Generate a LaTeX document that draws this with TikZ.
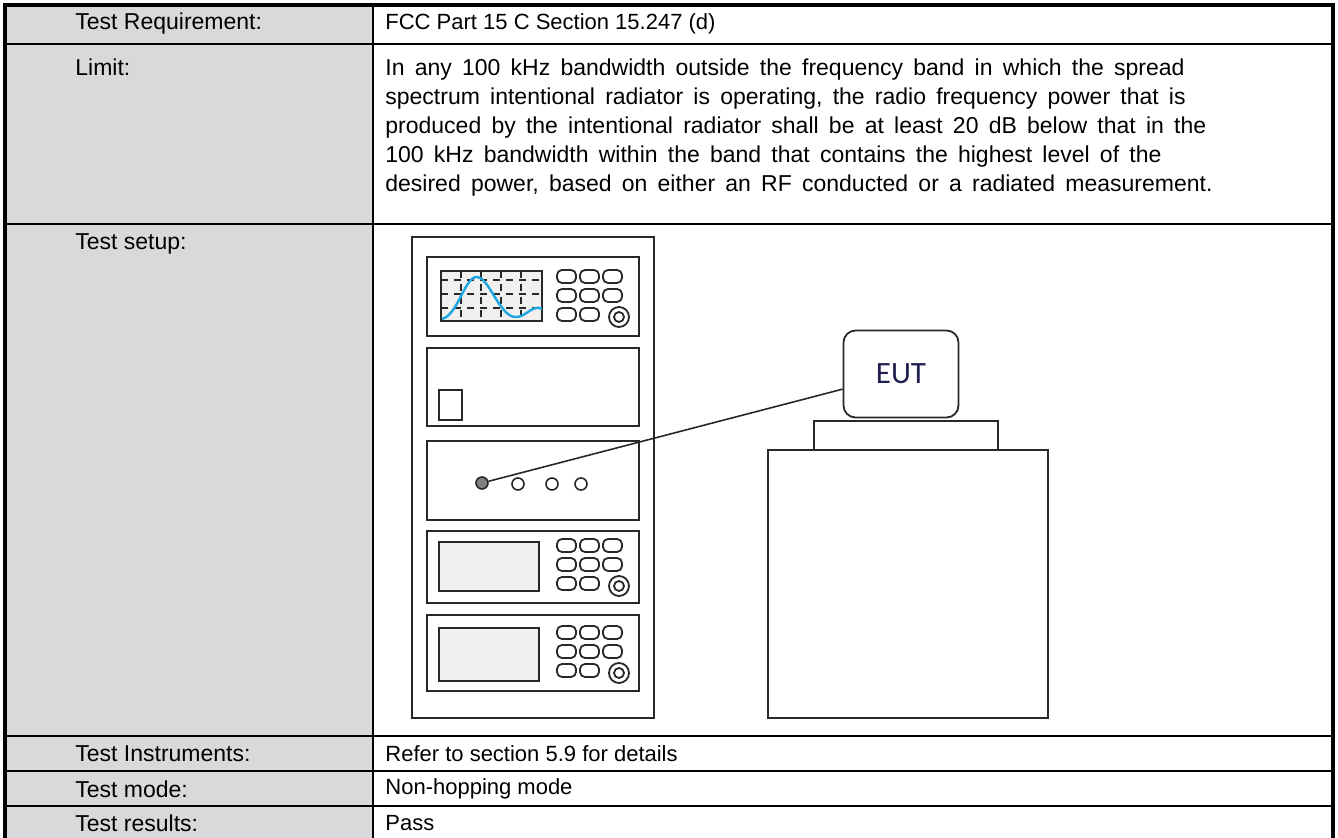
\documentclass[tikz,border=0pt]{standalone}
\usepackage{fontspec}
\setmainfont{Liberation Sans}
\newfontfamily\limfont[WordSpace=1.6]{Liberation Sans}
\newfontfamily\eutfont{Carlito}
\usetikzlibrary{positioning}

\definecolor{cellgrey}{RGB}{217,217,217}
\definecolor{screengrey}{RGB}{241,240,239}
\definecolor{tracecol}{RGB}{28,166,226}
\definecolor{eutblue}{RGB}{31,31,80}
\definecolor{gearcol}{RGB}{40,40,40}

\tikzset{
  lbl/.style={anchor=west, inner sep=0pt, font=\fontsize{11.5}{14}\selectfont},
  val/.style={anchor=west, inner sep=0pt, font=\fontsize{11}{14}\selectfont},
  para/.style={anchor=north west, inner sep=0pt, align=left, font=\limfont\fontsize{11.5}{14.5}\selectfont},
  rule/.style={line width=1pt},
  frame/.style={line width=2pt},
  unitbox/.style={draw=gearcol, line width=0.9pt},
  btn/.style={draw=gearcol, line width=0.9pt, rounded corners=2.5pt, fill=white},
  port/.style={circle, draw=gearcol, line width=0.8pt, minimum size=6pt, inner sep=0pt},
  eut/.style={draw=gearcol, line width=0.9pt, rounded corners=6pt, minimum width=57.5pt,
    minimum height=43.5pt, font=\eutfont\fontsize{15.5}{17}\selectfont, text=eutblue},
  cable/.style={draw=gearcol, line width=0.8pt}
}

\begin{document}
\begin{tikzpicture}[x=0.5pt, y=-0.5pt, >=latex]
  \useasboundingbox (0,0) rectangle (1338,838);
  \clip (0,0) rectangle (1338,838);

  % table
  \fill[cellgrey] (5,5) rectangle (373,870);
  \foreach \y in {44,224,736,771,806}
    \draw[rule] (5,\y) -- (1333,\y);
  \draw[rule] (373,5) -- (373,870);
  \draw[frame] (5,870) -- (5,5) -- (1333,5) -- (1333,870);

  \node[lbl] (req) at (75,24) {Test Requirement:};
  \node[val] (reqval) at (385,24) {FCC Part 15 C Section 15.247 (d)};
  \node[lbl, anchor=north west] (lim) at (75,58) {Limit:};
  \node[para] (limval) at (385,58) {In any 100 kHz bandwidth outside the frequency band in which the spread\\
    spectrum intentional radiator is operating, the radio frequency power that is\\
    produced by the intentional radiator shall be at least 20 dB below that in the\\
    100 kHz bandwidth within the band that contains the highest level of the\\
    desired power, based on either an RF conducted or a radiated measurement.};
  \node[lbl] (setup) at (75,244) {Test setup:};
  \node[lbl] (instr) at (75,754) {Test Instruments:};
  \node[val] (instrval) at (385,754) {Refer to section 5.9 for details};
  \node[lbl] (mode) at (75,789) {Test mode:};
  \node[val] (modeval) at (385,789) {Non-hopping mode};
  \node[lbl] (res) at (75,823) {Test results:};
  \node[val] (resval) at (385,823) {Pass};

  % rack
  \draw[unitbox] (412,237) rectangle (654,718);
  \foreach \t/\b in {257/336, 348/426, 441/520, 531/603, 615/691}
    \draw[unitbox] (427,\t) rectangle (639,\b);

  % analyser screen
  \draw[unitbox, fill=screengrey] (441,271) rectangle (542,321);
  \begin{scope}
    \clip (441,271) rectangle (542,321);
    \foreach \y in {280,294,308}
      \draw[gearcol, line width=0.8pt, dash pattern=on 3.5pt off 3pt] (441,\y) -- (542,\y);
    \foreach \x in {461,481,501,521}
      \draw[gearcol, line width=0.8pt, dash pattern=on 3.5pt off 3pt] (\x,271) -- (\x,321);
  \end{scope}
  \draw[tracecol, line width=1.2pt] (442,319) .. controls (458,315) and (465,276) .. (477,277)
    .. controls (490,278) and (500,319) .. (517,317) .. controls (527,316) and (533,304) .. (542,309);

  % keypads
  \foreach \t in {270,539,626} {
    \foreach \dx/\dy in {0/0,23/0,46/0,0/19,23/19,46/19,0/38,23/38}
      \draw[btn] (557+\dx,\t+\dy) rectangle ++(19,13);
    \draw[gearcol, line width=0.9pt] (619,\t+47) circle[radius=10] (619,\t+47) circle[radius=5];
  }

  % other units
  \draw[unitbox] (439,390) rectangle (462,420);
  \draw[unitbox, fill=screengrey] (439,542) rectangle (539,591);
  \draw[unitbox, fill=screengrey] (439,628) rectangle (539,681);

  \node[port, fill=gray] (rf) at (482,483) {};
  \foreach \x [count=\i] in {518,552,581}
    \node[port] (p\i) at (\x,484) {};

  % EUT on table
  \draw[unitbox] (814,421) rectangle (998,450);
  \draw[unitbox] (768,450) rectangle (1048,718);
  \node[eut] (eut) at (901,374) {EUT};
  \draw[cable] (rf) -- (eut);
\end{tikzpicture}
\end{document}
